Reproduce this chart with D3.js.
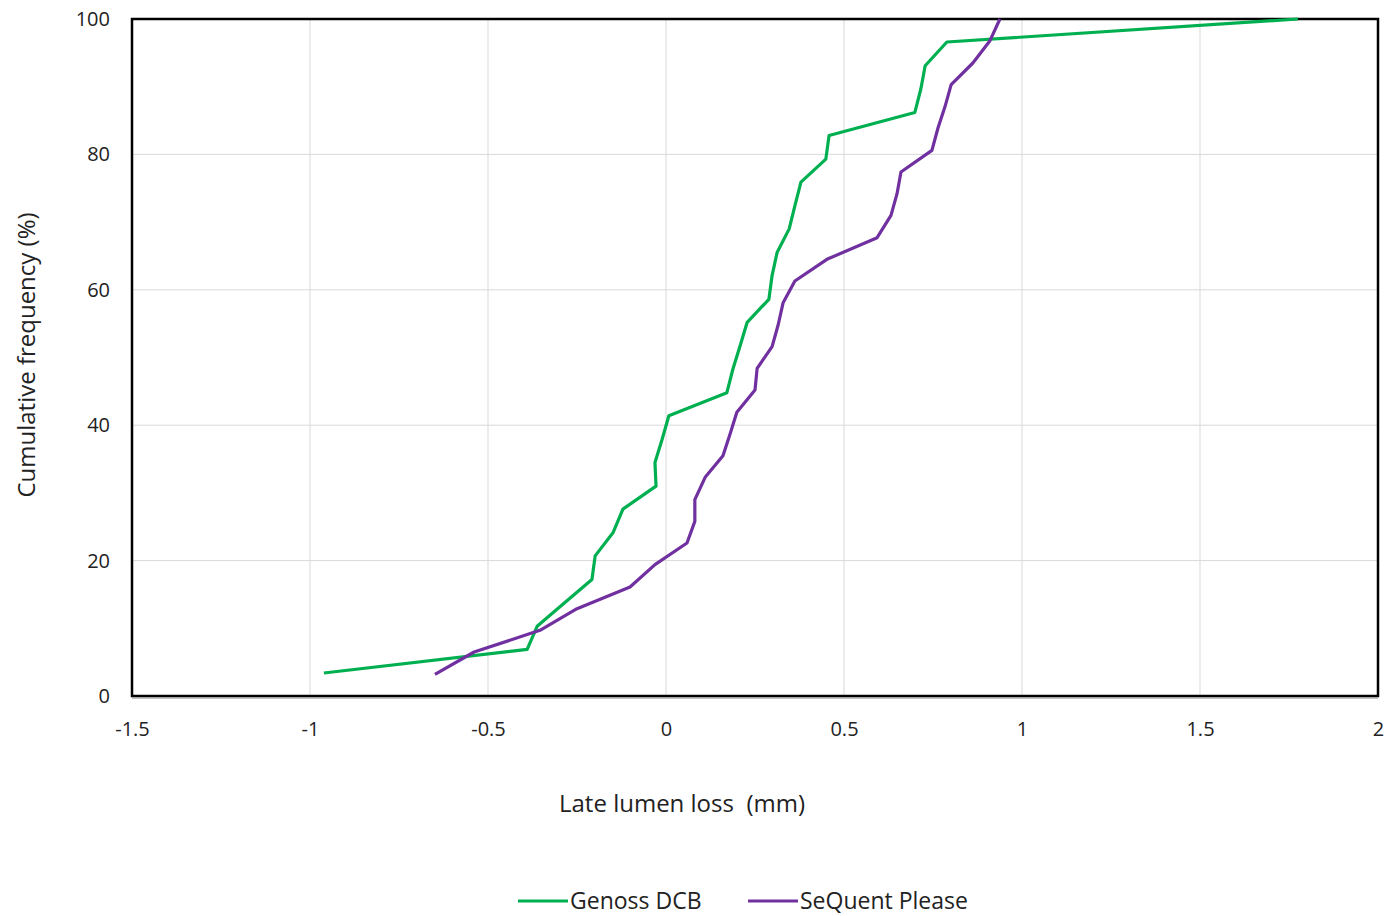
<!DOCTYPE html>
<html>
<head>
<meta charset="utf-8">
<title>Cumulative frequency of late lumen loss</title>
<script src="https://d3js.org/d3.v7.min.js"></script>
<style>
  body { margin: 0; background: #fff; }
  text { font-family: "Open Sans", "Noto Sans", sans-serif; fill: #222; }
</style>
</head>
<body>
<svg width="1384" height="916"></svg>
<script>
// Genoss DCB - late lumen loss (mm), sorted
const genossLLL = [-0.961, -0.390, -0.362, -0.284, -0.208, -0.199, -0.149, -0.121, -0.028, -0.031,
  -0.011, 0.008, 0.171, 0.188, 0.208, 0.228, 0.289, 0.298, 0.312, 0.346,
  0.362, 0.379, 0.449, 0.458, 0.699, 0.716, 0.728, 0.789, 1.775];
const genossFreq = [3.4, 6.9, 10.3, 13.8, 17.2, 20.7, 24.1, 27.6, 31.0, 34.5,
  37.9, 41.4, 44.8, 48.3, 51.7, 55.2, 58.6, 62.1, 65.5, 69.0,
  72.4, 75.9, 79.3, 82.8, 86.2, 89.7, 93.1, 96.6, 100];

// SeQuent Please
const sequentLLL = [-0.649, -0.539, -0.354, -0.250, -0.101, -0.031, 0.059, 0.081, 0.081, 0.110,
  0.160, 0.180, 0.199, 0.250, 0.256, 0.298, 0.315, 0.329, 0.362, 0.452,
  0.593, 0.632, 0.649, 0.660, 0.747, 0.764, 0.784, 0.801, 0.862, 0.910, 0.938];
const sequentFreq = [3.2, 6.5, 9.7, 12.9, 16.1, 19.4, 22.6, 25.8, 29.0, 32.3,
  35.5, 38.7, 41.9, 45.2, 48.4, 51.6, 54.8, 58.1, 61.3, 64.5,
  67.7, 71.0, 74.2, 77.4, 80.6, 83.9, 87.1, 90.3, 93.5, 96.8, 100];

const xTicks = [-1.5, -1, -0.5, 0, 0.5, 1, 1.5, 2];
const xTickLabels = ["-1.5", "-1", "-0.5", "0", "0.5", "1", "1.5", "2"];
const yTicks = [0, 20, 40, 60, 80, 100];

const series = [
  { name: "Genoss DCB", color: "#00b050", xs: genossLLL, ys: genossFreq },
  { name: "SeQuent Please", color: "#7030a0", xs: sequentLLL, ys: sequentFreq }
];

const svg = d3.select("svg"),
  margin = { top: 19, right: 6, bottom: 220, left: 132 },
  width = +svg.attr("width") - margin.left - margin.right,
  height = +svg.attr("height") - margin.top - margin.bottom,
  g = svg.append("g").attr("transform", `translate(${margin.left},${margin.top})`);

const x = d3.scaleLinear().domain([-1.5, 2]).range([0, width]);
const y = d3.scaleLinear().domain([0, 100]).range([height, 0]);

// grid
g.append("g").selectAll("line").data(xTicks.slice(1, -1)).join("line")
  .attr("x1", d => x(d)).attr("x2", d => x(d))
  .attr("y1", 0).attr("y2", height)
  .attr("stroke", "#d9d9d9").attr("stroke-width", 1);
g.append("g").selectAll("line").data(yTicks.slice(1, -1)).join("line")
  .attr("x1", 0).attr("x2", width)
  .attr("y1", d => y(d)).attr("y2", d => y(d))
  .attr("stroke", "#d9d9d9").attr("stroke-width", 1);

// tick labels
const xAxis = d3.axisBottom(x).tickValues(xTicks).tickSize(0).tickPadding(26)
  .tickFormat((d, i) => xTickLabels[i]);
g.append("g").attr("transform", `translate(0,${height})`).call(xAxis)
  .call(a => a.select(".domain").remove())
  .selectAll("text").attr("font-size", 20).attr("font-family", "Open Sans, sans-serif").attr("fill", "#222");

const yAxis = d3.axisLeft(y).tickValues(yTicks).tickSize(0).tickPadding(22);
g.append("g").call(yAxis)
  .call(a => a.select(".domain").remove())
  .selectAll("text").attr("font-size", 20).attr("font-family", "Open Sans, sans-serif").attr("fill", "#222");

// frame
g.append("rect").attr("x", 0).attr("y", 0).attr("width", width).attr("height", height)
  .attr("fill", "none").attr("stroke", "#000").attr("stroke-width", 2.5);
g.append("line").attr("x1", 0).attr("x2", width).attr("y1", height + 2).attr("y2", height + 2)
  .attr("stroke", "#888").attr("stroke-width", 1);

// lines
const line = d3.line().x(d => x(d[0])).y(d => y(d[1]));
series.forEach(s => {
  g.append("path")
    .datum(d3.zip(s.xs, s.ys))
    .attr("fill", "none")
    .attr("stroke", s.color)
    .attr("stroke-width", 3.2)
    .attr("stroke-linejoin", "round")
    .attr("d", line);
});

// axis titles
svg.append("text").attr("x", 682).attr("y", 812).attr("text-anchor", "middle")
  .attr("font-size", 24).attr("xml:space", "preserve").text("Late lumen loss  (mm)");
svg.append("text").attr("transform", "translate(35,355) rotate(-90)").attr("text-anchor", "middle")
  .attr("font-size", 24).text("Cumulative frequency (%)");

// legend
const legend = svg.append("g").attr("transform", "translate(518,901)");
const legendX = [0, 230];
series.forEach((s, i) => {
  const lg = legend.append("g").attr("transform", `translate(${legendX[i]},0)`);
  lg.append("line").attr("x1", 0).attr("x2", 50).attr("y1", 0).attr("y2", 0)
    .attr("stroke", s.color).attr("stroke-width", 3.2);
  lg.append("text").attr("x", 52).attr("y", 8).attr("font-size", 23).text(s.name);
});
</script>
</body>
</html>
